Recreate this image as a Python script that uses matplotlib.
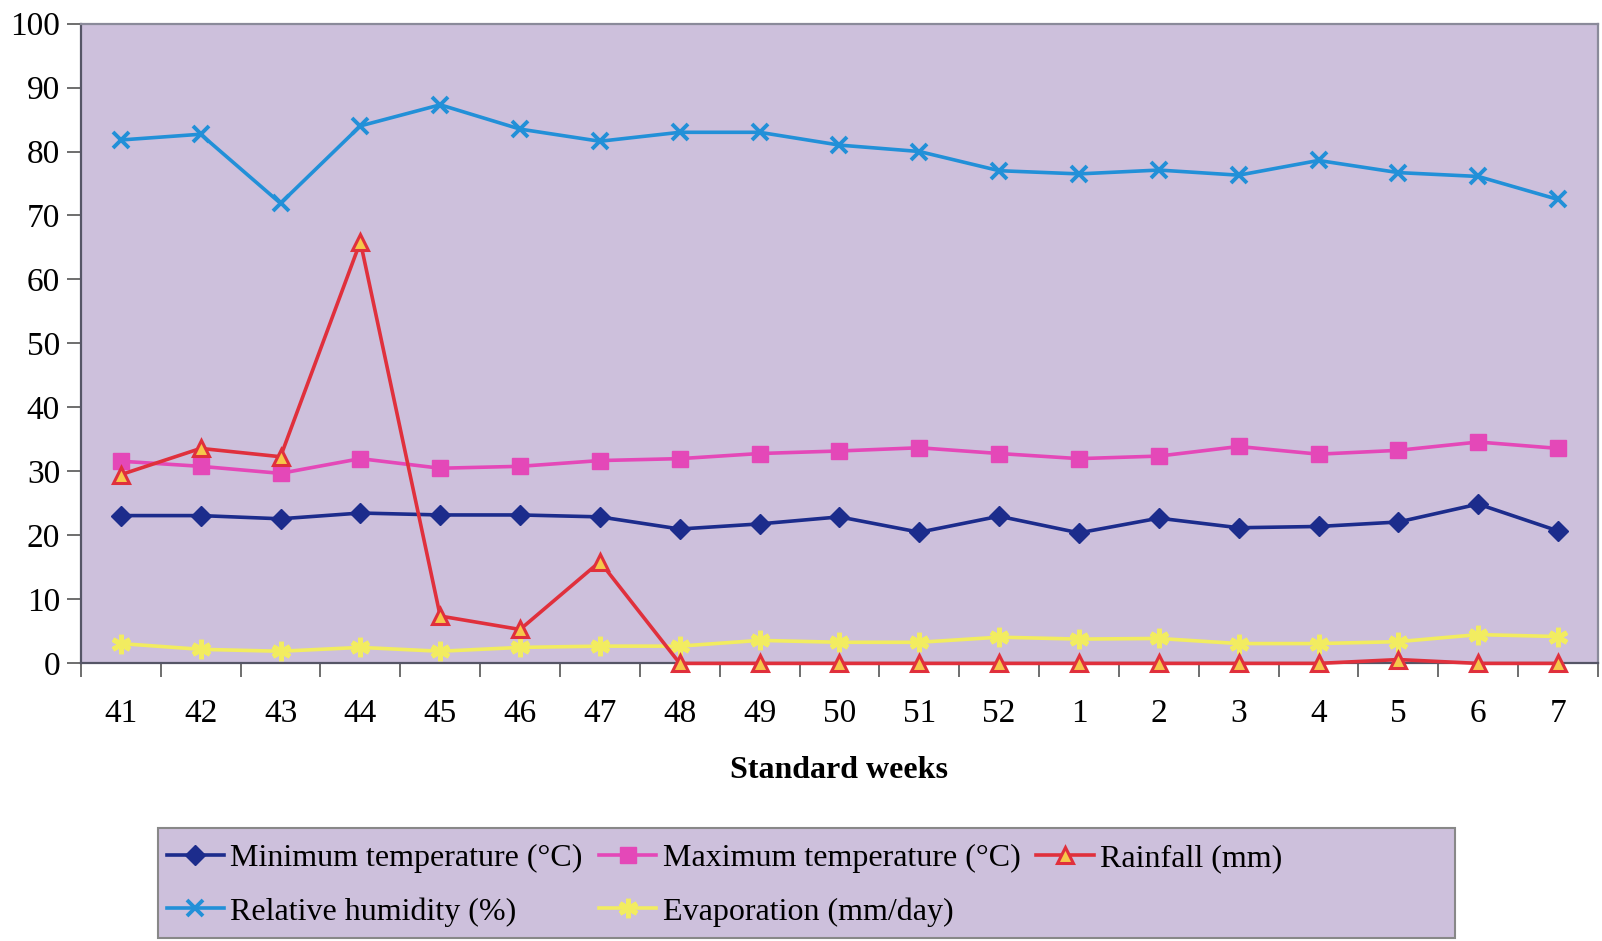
import matplotlib
matplotlib.use("Agg")
import matplotlib.pyplot as plt
from matplotlib.patches import Rectangle

plt.rcParams["font.family"] = ["Liberation Serif", "DejaVu Serif"]

# Weekly weather observations
weeks = ["41", "42", "43", "44", "45", "46", "47", "48", "49", "50", "51", "52",
         "1", "2", "3", "4", "5", "6", "7"]
min_temp = [23.1, 23.1, 22.6, 23.5, 23.2, 23.2, 22.9, 21.0, 21.8, 22.9, 20.5, 23.0,
            20.4, 22.7, 21.2, 21.4, 22.1, 24.9, 20.7]
max_temp = [31.6, 30.8, 29.7, 32.0, 30.5, 30.8, 31.7, 32.0, 32.8, 33.2, 33.7, 32.8,
            32.0, 32.4, 33.9, 32.7, 33.3, 34.6, 33.6]
rainfall = [29.5, 33.6, 32.3, 65.9, 7.4, 5.3, 15.9, 0, 0, 0, 0, 0,
            0, 0, 0, 0, 0.6, 0, 0]
humidity = [81.8, 82.7, 71.9, 84.0, 87.3, 83.5, 81.6, 83.0, 83.0, 81.0, 80.0, 77.0,
            76.5, 77.1, 76.3, 78.6, 76.7, 76.1, 72.5]
evaporation = [3.1, 2.2, 1.9, 2.5, 1.9, 2.5, 2.7, 2.7, 3.6, 3.3, 3.3, 4.1,
               3.8, 3.9, 3.1, 3.1, 3.4, 4.5, 4.2]

bg = "#cdc0dc"
fig = plt.figure(figsize=(16.02, 9.41), dpi=100)
ax = fig.add_axes([0.0505, 0.295, 0.947, 0.680])
ax.set_facecolor(bg)

x = range(len(weeks))
lw = 2.6
h_min, = ax.plot(x, min_temp, color="#1c2c8c", lw=lw, marker="D", ms=10,
                 label="Minimum temperature (°C)", clip_on=False, zorder=3)
h_max, = ax.plot(x, max_temp, color="#e448b8", lw=lw, marker="s", ms=11,
                 label="Maximum temperature (°C)", clip_on=False, zorder=3)
h_rain, = ax.plot(x, rainfall, color="#e0303c", lw=lw, marker="^", ms=11,
                  mfc="#f6c84a", mec="#e0303c", mew=2.2,
                  label="Rainfall (mm)", clip_on=False, zorder=4)
h_rh, = ax.plot(x, humidity, color="#2290d8", lw=lw, marker="x", ms=12, mew=2.8,
                label="Relative humidity (%)", clip_on=False, zorder=3)
h_ev, = ax.plot(x, evaporation, color="#f2ec60", lw=lw, marker=(6, 2, 0), ms=14, mew=3.5,
                label="Evaporation (mm/day)", clip_on=False, zorder=3)

ax.set_xlim(-0.5, len(weeks) - 0.5)
ax.set_ylim(0, 100)
ax.set_yticks(range(0, 101, 10))

# tick marks sit between the weeks, labels centred on them
ax.set_xticks([i - 0.5 for i in range(len(weeks) + 1)])
ax.set_xticklabels([])
ax.set_xticks(list(x), minor=True)
ax.set_xticklabels(weeks, minor=True)
ax.tick_params(axis="x", which="major", direction="out", length=10, width=1.2, color="#555555")
ax.tick_params(axis="x", which="minor", length=0, pad=25, labelsize=24)
ax.tick_params(axis="y", direction="out", length=10, width=1.2, color="#555555",
               pad=5, labelsize=24)

for side in ["left", "bottom"]:
    ax.spines[side].set_color("#555566")
    ax.spines[side].set_linewidth(1.6)
for side in ["top", "right"]:
    ax.spines[side].set_color("#8a8a9a")
    ax.spines[side].set_linewidth(1.6)

ax.set_xlabel("Standard weeks", fontsize=23, fontweight="bold", labelpad=20)

# legend box
fig.patches.append(Rectangle((0.0985, 0.003), 0.81, 0.117, transform=fig.transFigure,
                             facecolor=bg, edgecolor="#888888", lw=1.5, zorder=-1))
ax.legend([h_min, h_rh, h_max, h_ev, h_rain],
          [h.get_label() for h in [h_min, h_rh, h_max, h_ev, h_rain]],
          ncol=3, frameon=False, fontsize=23, loc="upper left",
          bbox_to_anchor=(0.096, 0.117), bbox_transform=fig.transFigure,
          handlelength=1.8, handletextpad=0.2, columnspacing=0.5,
          labelspacing=0.75, borderaxespad=0)

fig.savefig("out.png", dpi=100)
